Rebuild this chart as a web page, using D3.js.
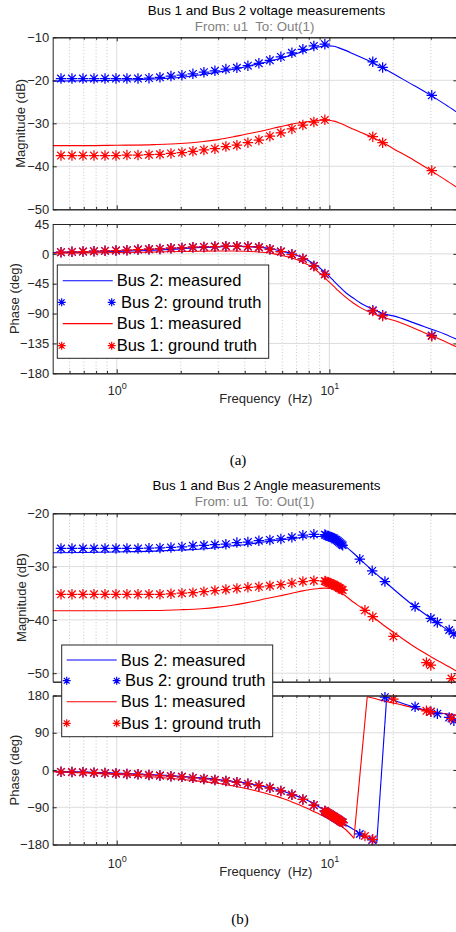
<!DOCTYPE html>
<html><head><meta charset="utf-8">
<script src="https://cdn.jsdelivr.net/npm/d3@7"></script>
<style>
body{margin:0;background:#fff;}
svg{display:block;}
text{font-family:"Liberation Sans",Arial,Helvetica,sans-serif;white-space:pre;}
text.serif{font-family:"Liberation Serif","Times New Roman",serif;}
</style></head><body>
<svg id="chart" width="456" height="932"></svg>
<script>
// ---------------- DATA ----------------
const freqDomain = [0.5, 40];
const xMajorTicks = [1, 10];
const xMajorExp = ["0", "1"];
const xMinorTicks = [0.6,0.7,0.8,0.9,2,3,4,5,6,7,8,9,20,30,40];
const magTicksA = [-10,-20,-30,-40,-50];
const phaseTicksA = [45,0,-45,-90,-135,-180];
const magTicksB = [-20,-30,-40,-50];
const phaseTicksB = [180,90,0,-90,-180];
const legendLabels = ["Bus 2: measured","Bus 2: ground truth","Bus 1: measured","Bus 1: ground truth"];
const titleA = "Bus 1 and Bus 2 voltage measurements";
const titleB = "Bus 1 and Bus 2 Angle measurements";
const subTitle = "From: u1  To: Out(1)";
const xLabel = "Frequency  (Hz)";
const magLabel = "Magnitude (dB)";
const phaseLabel = "Phase (deg)";

// measured-curve frequencies (Hz)
const curveFreq = [0.5,0.7,1,1.5,2,2.5,3,3.5,4,4.5,5,5.5,6,6.5,7,7.5,8,8.5,9,9.5,10,10.5,11,12,13,14,16,18,20,25,30,35,40];

// (a) voltage: measured
const bus2MagA = [-20.2,-20.1,-20.0,-19.7,-19.3,-18.7,-18.1,-17.5,-16.9,-16.3,-15.8,-15.3,-14.8,-14.3,-13.8,-13.3,-12.9,-12.5,-12.2,-12.0,-12.0,-12.1,-12.4,-13.1,-13.9,-14.6,-15.9,-17.2,-18.5,-21.2,-23.5,-25.6,-27.5];
const bus1MagA = [-35.2,-35.2,-35.1,-34.95,-34.7,-34.3,-33.8,-33.2,-32.6,-32.1,-31.6,-31.1,-30.7,-30.3,-30.0,-29.8,-29.6,-29.4,-29.3,-29.2,-29.3,-29.5,-29.8,-30.6,-31.4,-32.1,-33.3,-34.6,-35.9,-38.6,-41.0,-43.1,-45.0];
const bus2PhaseA = [2,2.5,3.5,5.5,7.5,9.5,10.5,11.2,11.3,10.5,9,6.5,4,1.5,-2,-6,-10.5,-15.5,-21,-27.5,-34,-41,-47.5,-59,-67,-74,-83.5,-90.5,-93.5,-104,-113.3,-121,-129];
const bus1PhaseA = [1,1.5,2,2.8,3.5,4,4.3,4.3,4,3.2,2,0,-2.5,-5,-8.5,-12.5,-17,-22.5,-29,-36,-42.5,-49,-55.5,-66,-74.5,-81,-90,-96,-100,-112,-123,-132,-141];

// (a) voltage: ground truth
const gtFreqA = [0.547,0.616,0.694,0.782,0.881,0.992,1.117,1.259,1.418,1.597,1.799,2.026,2.282,2.571,2.896,3.262,3.674,4.139,4.662,5.252,5.916,6.664,7.506,8.456,9.524,16.0,17.8,30.3];
const bus2GtMagA = [-19.6,-19.6,-19.6,-19.6,-19.6,-19.6,-19.6,-19.6,-19.5,-19.3,-19.0,-18.8,-18.5,-18.1,-17.8,-17.4,-17.1,-16.6,-16.05,-15.35,-14.55,-13.6,-12.8,-12.0,-11.6,-15.7,-17.0,-23.5];
const bus1GtMagA = [-37.5,-37.5,-37.5,-37.5,-37.5,-37.5,-37.4,-37.4,-37.3,-37.2,-37.0,-36.8,-36.5,-36.2,-35.9,-35.4,-35.1,-34.5,-33.9,-33.0,-32.2,-31.3,-30.4,-29.7,-29.2,-33.1,-34.5,-41.0];
const bus2GtPhaseA = [2.5,3,3.5,4,4.5,5,5.5,6.5,7,7.5,8.5,9,10,10.5,11,11.5,11.5,11,10,7,3.5,-0.5,-7.5,-18,-30.5,-85,-92.5,-123];
const bus1GtPhaseA = [2.5,3,3.5,4,4.5,5,5.5,6.5,7,7.5,8.5,9,10,10.5,11,11.5,11.5,11,10,7,3.5,-1,-7.5,-18.5,-31,-86,-93.5,-124];

// (b) angle: measured
const bus2MagB = [-27.4,-27.35,-27.25,-27.1,-26.9,-26.7,-26.4,-26.1,-25.9,-25.6,-25.35,-25.15,-24.95,-24.8,-24.65,-24.5,-24.4,-24.35,-24.35,-24.4,-24.5,-24.75,-25.1,-26.3,-27.5,-28.7,-30.8,-32.6,-34.2,-37.4,-39.7,-41.6,-43.3];
const bus1MagB = [-38.3,-38.3,-38.3,-38.25,-38.1,-37.9,-37.6,-37.25,-36.85,-36.45,-36.05,-35.7,-35.4,-35.1,-34.8,-34.55,-34.35,-34.2,-34.1,-34.05,-34.1,-34.3,-34.6,-35.6,-36.7,-37.6,-39.4,-41.0,-42.3,-45.0,-46.9,-48.4,-49.7];
const bus2PhaseFreqB = [0.5,0.7,1,1.5,2,2.5,3,3.5,4,4.5,5,5.5,6,6.5,7,7.5,8,8.5,9,9.5,10,10.5,11,12,13,14,16,16.7,18.6,20,25,30,35,40];
const bus2PhaseB = [-3,-5,-7.5,-11.5,-15,-19,-23,-27,-31,-36,-40.5,-45.5,-51,-56.5,-62.5,-68.5,-75,-82,-90,-98,-106,-113,-120,-133,-144,-155,-171,-177,176,169,152,142,136,132];
const bus1PhaseFreqB = [0.5,0.7,1,1.5,2,2.5,3,3.5,4,4.5,5,5.5,6,6.5,7,7.5,8,8.5,9,9.5,10,10.5,11,12,13.05,15.07,16,18,20,25,30,35,40];
const bus1PhaseB = [-4,-7,-11,-17,-22.5,-27.5,-32,-38,-44,-50,-56,-62,-68,-75,-81.5,-88,-94.5,-101,-107,-113,-119,-125,-131,-145,-165,177,174,167,162,150,141,136,132];

// (b) angle: ground truth
const gtFreqB2 = [0.547,0.616,0.694,0.782,0.881,0.992,1.117,1.259,1.418,1.597,1.799,2.026,2.282,2.571,2.896,3.262,3.674,4.139,4.662,5.252,5.916,6.664,7.506,8.456,9.524,9.6,9.75,9.9,10.05,10.2,10.35,10.5,10.65,10.8,10.95,11.1,11.25,11.4,11.55,13.9,15.9,18.25,25.3,30.0,32.2,36.6,38.5];
const bus2GtMagB = [-26.6,-26.6,-26.6,-26.6,-26.6,-26.6,-26.6,-26.6,-26.55,-26.5,-26.4,-26.3,-26.1,-26.0,-25.9,-25.8,-25.5,-25.4,-25.15,-25.0,-24.8,-24.5,-24.1,-23.95,-24.0,-24.1,-24.2,-24.3,-24.4,-24.5,-24.6,-24.7,-24.9,-25.0,-25.2,-25.4,-25.6,-25.8,-26.0,-28.6,-30.8,-32.8,-37.5,-39.7,-40.5,-41.9,-42.6];
const bus2GtPhaseB = [-4.5,-5,-5.5,-6.5,-7.5,-8.5,-9.5,-10.5,-12,-13.5,-15,-16.5,-19,-21.5,-24,-26.5,-29.5,-33.5,-38,-43,-50.5,-60,-71,-85,-99,-101,-103,-105,-107,-109,-111,-113,-115,-117,-119,-121,-123,-125,-127,-154.6,-169,176,153,141,136,127,119];
const gtFreqB1 = [0.547,0.616,0.694,0.782,0.881,0.992,1.117,1.259,1.418,1.597,1.799,2.026,2.282,2.571,2.896,3.262,3.674,4.139,4.662,5.252,5.916,6.664,7.506,8.456,9.524,9.6,9.75,9.9,10.05,10.2,10.35,10.5,10.65,10.8,10.95,11.1,11.25,11.4,11.55,14.7,16.0,20.0,28.6,30.0,37.5];
const bus1GtMagB = [-35.2,-35.2,-35.2,-35.2,-35.2,-35.2,-35.2,-35.2,-35.2,-35.2,-35.1,-35.0,-34.9,-34.7,-34.5,-34.3,-34.1,-33.9,-33.8,-33.6,-33.4,-33.1,-32.8,-32.65,-32.7,-32.8,-32.9,-33.0,-33.1,-33.2,-33.3,-33.4,-33.6,-33.7,-33.8,-34.0,-34.1,-34.3,-34.4,-38.2,-39.4,-43.1,-48.0,-48.5,-51.0];
const bus1GtPhaseB = [-4.5,-5,-5.5,-6.5,-7.5,-8.5,-9.5,-10.5,-12,-13.5,-15,-16.5,-19,-21.5,-24,-26.5,-29.5,-33.5,-38,-43,-50.5,-60,-71,-85,-99,-101,-103,-105,-107,-109,-111,-113,-115,-117,-119,-121,-123,-125,-127,-159.5,-167.5,171,143,141,125];

// ---------------- DRAWING ----------------
const BLUE = "#0000ff", RED = "#ff0000", AX = "#262626";
const svg = d3.select("#chart");
const X0 = 52.7, X1 = 457.4;
const x = d3.scaleLog().domain(freqDomain).range([X0, X1]);

const starType = {
  draw(ctx, size) {
    const r = Math.sqrt(size) / 2, d = r * 0.72;
    ctx.moveTo(-r, 0); ctx.lineTo(r, 0);
    ctx.moveTo(0, -r); ctx.lineTo(0, r);
    ctx.moveTo(-d, -d); ctx.lineTo(d, d);
    ctx.moveTo(-d, d); ctx.lineTo(d, -d);
  }
};
const starPath = (diam) => d3.symbol().type(starType).size(diam * diam)();

let clipId = 0;
function panel(o) {
  const y = d3.scaleLinear().domain(o.domain).range([o.top, o.bottom]);
  const g = svg.append("g");
  const id = "clip" + (clipId++);
  g.append("clipPath").attr("id", id).append("rect")
    .attr("x", X0).attr("y", o.top).attr("width", X1 - X0).attr("height", o.bottom - o.top);
  // grid
  const grid = g.append("g");
  grid.selectAll(".gm").data(xMinorTicks).join("line")
    .attr("x1", d => x(d)).attr("x2", d => x(d)).attr("y1", o.top).attr("y2", o.bottom)
    .attr("stroke", "#b8b8b8").attr("stroke-width", 0.8).attr("stroke-dasharray", "1,2.2");
  grid.selectAll(".gM").data(xMajorTicks).join("line")
    .attr("x1", d => x(d)).attr("x2", d => x(d)).attr("y1", o.top).attr("y2", o.bottom)
    .attr("stroke", "#dcdcdc").attr("stroke-width", 1);
  grid.selectAll(".gy").data(o.ticks.filter(t => y(t) > o.top + 0.5 && y(t) < o.bottom - 0.5)).join("line")
    .attr("x1", X0).attr("x2", X1).attr("y1", d => y(d)).attr("y2", d => y(d))
    .attr("stroke", "#dcdcdc").attr("stroke-width", 1);
  // series
  const data = g.append("g").attr("clip-path", `url(#${id})`);
  o.series.forEach(s => {
    const pts = s.f.map((f, i) => [f, s.v[i]]);
    if (s.type === "line") {
      const pieces = [[pts[0]]];
      for (let i = 1; i < pts.length; i++) {
        if (Math.abs(pts[i][1] - pts[i - 1][1]) > 180) {
          data.append("path").attr("d", d3.line().x(d => x(d[0])).y(d => y(d[1]))([pts[i - 1], pts[i]]))
            .attr("fill", "none").attr("stroke", s.color).attr("stroke-width", 1.1);
          pieces.push([pts[i]]);
        } else pieces[pieces.length - 1].push(pts[i]);
      }
      pieces.forEach(p => {
        data.append("path").attr("d", d3.line().curve(d3.curveMonotoneX).x(d => x(d[0])).y(d => y(d[1]))(p))
          .attr("fill", "none").attr("stroke", s.color).attr("stroke-width", 1.1);
      });
    } else {
      g.append("g").selectAll("path").data(pts).join("path")
        .attr("transform", d => `translate(${x(d[0])},${y(d[1])})`)
        .attr("d", starPath(10.5)).attr("fill", "none").attr("stroke", s.color).attr("stroke-width", 1.25);
    }
  });
  // axes
  const ax = g.append("g");
  const style = sel => {
    sel.selectAll(".domain").attr("stroke", AX).attr("stroke-width", 1);
    sel.selectAll(".tick line").attr("stroke", AX).attr("stroke-width", 1);
    sel.selectAll("text").attr("fill", AX).attr("font-size", 13);
    sel.attr("font-family", null).attr("font-size", null);
  };
  ax.append("g").attr("transform", `translate(${X0},0)`)
    .call(d3.axisLeft(y).tickValues(o.ticks).tickSizeInner(-4).tickSizeOuter(0).tickPadding(3.5)).call(style);
  ax.append("g").attr("transform", `translate(${X1},0)`)
    .call(d3.axisRight(y).tickValues(o.ticks).tickSizeInner(-4).tickSizeOuter(0).tickFormat("")).call(style);
  ax.append("g").attr("transform", `translate(0,${o.top})`)
    .call(d3.axisTop(x).tickValues(xMajorTicks).tickSizeInner(-4).tickSizeOuter(0).tickFormat("")).call(style);
  ax.append("g").attr("transform", `translate(0,${o.top})`)
    .call(d3.axisTop(x).tickValues(xMinorTicks).tickSizeInner(-2.5).tickSizeOuter(0).tickFormat("")).call(style);
  ax.append("g").attr("transform", `translate(0,${o.bottom})`)
    .call(d3.axisBottom(x).tickValues(xMinorTicks).tickSizeInner(-2.5).tickSizeOuter(0).tickFormat("")).call(style);
  const bx = ax.append("g").attr("transform", `translate(0,${o.bottom})`)
    .call(d3.axisBottom(x).tickValues(xMajorTicks).tickSizeInner(-4).tickSizeOuter(0)).call(style);
  if (o.xLabels) {
    bx.selectAll(".tick text").each(function (d, i) {
      const t = d3.select(this).text(null).attr("y", o.xLabelDy).attr("dy", null).attr("font-size", 12.5);
      t.append("tspan").text("10");
      t.append("tspan").attr("dy", -6.5).attr("font-size", 9).text(xMajorExp[i]);
    });
    g.append("text").attr("x", 265.8).attr("y", o.bottom + o.xTitleDy).attr("text-anchor", "middle")
      .attr("font-size", 13).attr("fill", AX).text(xLabel);
  } else {
    bx.selectAll(".tick text").remove();
  }
  g.append("text").attr("transform", `translate(${o.ylabelX},${(o.top + o.bottom) / 2}) rotate(-90)`)
    .attr("dy", "0.35em").attr("text-anchor", "middle").attr("font-size", 13).attr("fill", AX).text(o.ylabel);
  return { y };
}

function legend(o) {
  const g = svg.append("g");
  g.append("rect").attr("x", o.x).attr("y", o.y).attr("width", o.w).attr("height", o.h)
    .attr("fill", "#fff").attr("stroke", AX).attr("stroke-width", 1);
  const colors = [BLUE, BLUE, RED, RED];
  legendLabels.forEach((lab, i) => {
    const cy = o.rows[i];
    if (i % 2 === 0) {
      g.append("line").attr("x1", o.l0).attr("x2", o.l1).attr("y1", cy).attr("y2", cy)
        .attr("stroke", colors[i]).attr("stroke-width", 1.1);
    } else {
      [o.s0, o.s1].forEach(sx => g.append("path").attr("transform", `translate(${sx},${cy})`)
        .attr("d", starPath(8)).attr("fill", "none").attr("stroke", colors[i]).attr("stroke-width", 1.2));
    }
    g.append("text").attr("x", o.tx[i]).attr("y", cy).attr("dy", "0.35em")
      .attr("font-size", 16.5).attr("fill", "#000").text(lab);
  });
}

function titles(t, ty, sy) {
  svg.append("text").attr("x", 266.5).attr("y", ty).attr("text-anchor", "middle")
    .attr("font-size", 13.4).attr("fill", "#000").text(t);
  svg.append("text").attr("x", 254.6).attr("y", sy).attr("text-anchor", "middle")
    .attr("font-size", 13.3).attr("fill", "#7f7f7f").text(subTitle);
}

// ----- (a) -----
titles(titleA, 15, 31);
panel({ top: 37.3, bottom: 209.3, domain: [-10, -50], ticks: magTicksA, xLabels: false,
  ylabel: magLabel, ylabelX: 20.7,
  series: [
    { type: "line", f: curveFreq, v: bus2MagA, color: BLUE },
    { type: "star", f: gtFreqA, v: bus2GtMagA, color: BLUE },
    { type: "line", f: curveFreq, v: bus1MagA, color: RED },
    { type: "star", f: gtFreqA, v: bus1GtMagA, color: RED }
  ] });
panel({ top: 224, bottom: 373.3, domain: [45, -180], ticks: phaseTicksA, xLabels: true, xLabelDy: 22, xTitleDy: 30,
  ylabel: phaseLabel, ylabelX: 14,
  series: [
    { type: "line", f: curveFreq, v: bus2PhaseA, color: BLUE },
    { type: "star", f: gtFreqA, v: bus2GtPhaseA, color: BLUE },
    { type: "line", f: curveFreq, v: bus1PhaseA, color: RED },
    { type: "star", f: gtFreqA, v: bus1GtPhaseA, color: RED }
  ] });
legend({ x: 57.3, y: 265, w: 211.4, h: 93.3, rows: [280.7, 302.3, 323.6, 345.7],
  l0: 62.7, l1: 112.7, s0: 61.7, s1: 111.7, tx: [116.7, 121, 116.7, 116.7] });
svg.append("text").attr("class", "serif").attr("x", 238).attr("y", 465).attr("text-anchor", "middle")
  .attr("font-size", 15).text("(a)");

// ----- (b) -----
titles(titleB, 489.5, 506);
panel({ top: 513.3, bottom: 681.7, domain: [-20, -51.6], ticks: magTicksB, xLabels: false,
  ylabel: magLabel, ylabelX: 21.5,
  series: [
    { type: "line", f: curveFreq, v: bus2MagB, color: BLUE },
    { type: "star", f: gtFreqB2, v: bus2GtMagB, color: BLUE },
    { type: "line", f: curveFreq, v: bus1MagB, color: RED },
    { type: "star", f: gtFreqB1, v: bus1GtMagB, color: RED }
  ] });
panel({ top: 695.5, bottom: 844.5, domain: [180, -180], ticks: phaseTicksB, xLabels: true, xLabelDy: 23.5, xTitleDy: 31.5,
  ylabel: phaseLabel, ylabelX: 14,
  series: [
    { type: "line", f: bus2PhaseFreqB, v: bus2PhaseB, color: BLUE },
    { type: "star", f: gtFreqB2, v: bus2GtPhaseB, color: BLUE },
    { type: "line", f: bus1PhaseFreqB, v: bus1PhaseB, color: RED },
    { type: "star", f: gtFreqB1, v: bus1GtPhaseB, color: RED }
  ] });
legend({ x: 61.7, y: 645, w: 211, h: 91.7, rows: [660, 680.7, 701.7, 723.3],
  l0: 66.7, l1: 116.7, s0: 66.7, s1: 116.7, tx: [120.7, 125, 120.7, 120.7] });
svg.append("text").attr("class", "serif").attr("x", 240).attr("y", 924).attr("text-anchor", "middle")
  .attr("font-size", 15).text("(b)");
</script>
</body></html>
